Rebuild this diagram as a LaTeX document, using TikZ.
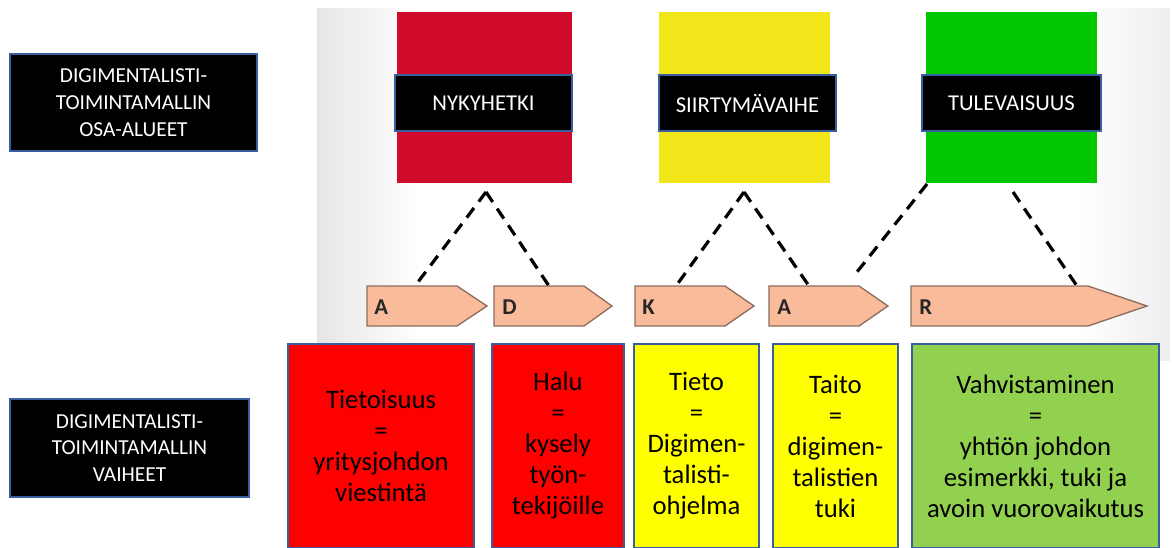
\documentclass[tikz,border=0pt]{standalone}
\usepackage{fontspec}
\setmainfont{Carlito}
\usetikzlibrary{calc}

\definecolor{panelgray}{HTML}{E6E6E6}
\definecolor{edgeblue}{HTML}{3A5FA0}
\definecolor{nowred}{HTML}{D00A2B}
\definecolor{transyellow}{HTML}{F0E619}
\definecolor{futgreen}{HTML}{00C800}
\definecolor{tagfill}{HTML}{F9BB9A}
\definecolor{tagedge}{HTML}{8C6E5E}
\definecolor{phred}{HTML}{FF0000}
\definecolor{phyellow}{HTML}{FFFF00}
\definecolor{phgreen}{HTML}{92D050}

\tikzset{
  blackbox/.style={fill=black, draw=edgeblue, line width=1.2pt, text=white,
    inner sep=0pt, align=center, font=\fontsize{16}{20}\selectfont},
  titlebox/.style={blackbox, font=\fontsize{17}{20}\selectfont},
  phasebox/.style={draw=edgeblue, line width=1.1pt, inner sep=0pt,
    align=center, font=\fontsize{20}{23.25}\selectfont},
  tagshape/.style={fill=tagfill, draw=tagedge, line width=1pt},
  tagletter/.style={anchor=west, inner sep=0pt, text=black!85,
    font=\fontsize{17}{20}\selectfont\bfseries},
  linkline/.style={line width=2.4pt, dash pattern=on 9pt off 6pt}
}

\begin{document}
\begin{tikzpicture}[x=0.75pt,y=-0.75pt]
\useasboundingbox (0,0) rectangle (1174,547);

% light backdrop behind the stages and tags: white, greying towards the sides
\fill[white] (317,8) rectangle (1170,360);
\shade[left color=panelgray, right color=white] (317,8) rectangle (420,360);
\shade[left color=white, right color=panelgray!70] (1080,8) rectangle (1170,360);

% stage columns
\fill[nowred] (397,12) rectangle (572,183);
\fill[transyellow] (659,12) rectangle (830,183);
\fill[futgreen] (926,12) rectangle (1097,183);

% stage titles
\node[titlebox, minimum width=177*0.75pt, minimum height=56*0.75pt] (now) at (483.5,103) {NYKYHETKI};
\node[titlebox, minimum width=177*0.75pt, minimum height=56*0.75pt] (trans) at (747.5,103) {SIIRTYMÄVAIHE};
\node[titlebox, minimum width=179*0.75pt, minimum height=56*0.75pt] (fut) at (1011.5,103) {TULEVAISUUS};

% row headings
\node[blackbox, minimum width=247*0.75pt, minimum height=97*0.75pt] (areas) at (133.5,102.5)
  {DIGIMENTALISTI-\\TOIMINTAMALLIN\\OSA-ALUEET};
\node[blackbox, minimum width=239*0.75pt, minimum height=98*0.75pt] (phases) at (129.5,448)
  {DIGIMENTALISTI-\\TOIMINTAMALLIN\\VAIHEET};

% ADKAR tags
\draw[tagshape] (367,286) -- (457,286) -- (487,306) -- (457,326) -- (367,326) -- cycle;
\draw[tagshape] (494,286) -- (584,286) -- (612,306) -- (584,326) -- (494,326) -- cycle;
\draw[tagshape] (635,286) -- (725,286) -- (754,306) -- (725,326) -- (635,326) -- cycle;
\draw[tagshape] (769,286) -- (859,286) -- (888,306) -- (859,326) -- (769,326) -- cycle;
\draw[tagshape] (911,286) -- (1088,286) -- (1147,306) -- (1088,326) -- (911,326) -- cycle;
\node[tagletter] (la1) at (374,307) {A};
\node[tagletter] (ld) at (502,307) {D};
\node[tagletter] (lk) at (642,307) {K};
\node[tagletter] (la2) at (777,307) {A};
\node[tagletter] (lr) at (919,307) {R};

% link points
\coordinate (nowapex) at (486,192);
\coordinate (transapex) at (744,192);
\coordinate (futleft) at (927,184);
\coordinate (futright) at (1013,192);
\coordinate (a1top) at (415,286);
\coordinate (dtop) at (549,286);
\coordinate (ktop) at (676,286);
\coordinate (a2top) at (809,286);
\coordinate (a2end) at (853,277);
\coordinate (rtop) at (1077,286);

% dashed links from stages to tags
\draw[linkline] (nowapex) -- (a1top);
\draw[linkline] (nowapex) -- (dtop);
\draw[linkline] (transapex) -- (ktop);
\draw[linkline] (transapex) -- (a2top);
\draw[linkline] (futleft) -- (a2end);
\draw[linkline] (futright) -- (rtop);

% phase boxes
\node[phasebox, fill=phred, minimum width=186*0.75pt, minimum height=204*0.75pt] (p1) at (381,446)
  {Tietoisuus\\=\\yritysjohdon\\viestintä};
\node[phasebox, fill=phred, minimum width=132*0.75pt, minimum height=204*0.75pt] (p2) at (558,446)
  {Halu\\=\\kysely\\työn-\\tekijöille};
\node[phasebox, fill=phyellow, minimum width=125*0.75pt, minimum height=204*0.75pt] (p3) at (696.5,446)
  {Tieto\\=\\Digimen-\\talisti-\\ohjelma};
\node[phasebox, fill=phyellow, minimum width=125*0.75pt, minimum height=204*0.75pt] (p4) at (835.5,446)
  {Taito\\=\\digimen-\\talistien\\tuki};
\node[phasebox, fill=phgreen, minimum width=247*0.75pt, minimum height=204*0.75pt] (p5) at (1035.5,446)
  {Vahvistaminen\\=\\yhtiön johdon\\esimerkki, tuki ja\\avoin vuorovaikutus};
\end{tikzpicture}
\end{document}
